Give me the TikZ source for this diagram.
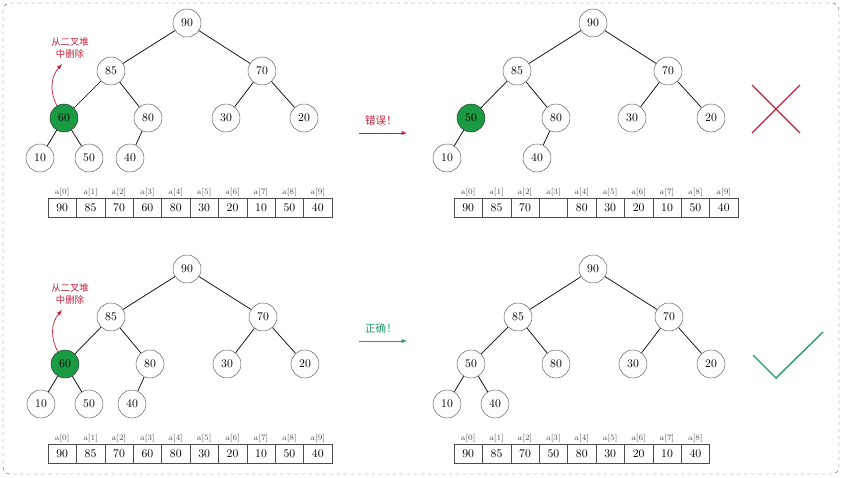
\documentclass[tikz,border=0pt]{standalone}
\usepackage{fontspec}
\newfontfamily\cjk{Noto Sans CJK SC}
\definecolor{delred}{HTML}{C0203A}
\definecolor{heapgreen}{HTML}{1A9A42}
\definecolor{okgreen}{HTML}{2A9A6A}

\begin{document}
\begin{tikzpicture}[x=0.03cm,y=-0.03cm,
  hnode/.style={draw=black!65, circle, minimum size=0.84cm, inner sep=0pt, fill=white},
  hot/.style={hnode, fill=heapgreen, draw=black!80},
  edge/.style={draw, line width=0.6pt},
  cell/.style={draw=black!70, minimum width=0.852cm, minimum height=0.57cm, inner sep=0pt},
  idx/.style={font=\scriptsize, text=black!70, inner sep=1pt, anchor=south},
  note/.style={font=\cjk\fontsize{8}{10}\selectfont, align=center, text=delred}]
\useasboundingbox (0,0) rectangle (842,477);
\draw[dashed, black!65, rounded corners=6] (3,3) rectangle (839,474);
\begin{scope}
\node[hnode] (n90) at (187,23) {90};
\node[hnode] (n85) at (111,71) {85};
\node[hnode] (n70) at (262,71) {70};
\node[hot] (n60) at (64,118) {60};
\node[hnode] (n80) at (148,118) {80};
\node[hnode] (n30) at (226,118) {30};
\node[hnode] (n20) at (304,118) {20};
\node[hnode] (n10) at (40,158) {10};
\node[hnode] (n50) at (89,158) {50};
\node[hnode] (n40) at (130,158) {40};
\path[edge] (n90) -- (n85);
\path[edge] (n90) -- (n70);
\path[edge] (n85) -- (n60);
\path[edge] (n85) -- (n80);
\path[edge] (n70) -- (n30);
\path[edge] (n70) -- (n20);
\path[edge] (n60) -- (n10);
\path[edge] (n60) -- (n50);
\path[edge] (n80) -- (n40);
\node[note] (del) at (70,48) {从二叉堆\\中删除};
\coordinate (up) at (62,64);
\path[draw, delred, semithick, -latex] (n60.120) to[bend left=35] (up);
\foreach \v [count=\i from 0] in {90,85,70,60,80,30,20,10,50,40} {
  \node[cell] (a\i) at (62.2+28.4*\i,208) {\v};
  \node[idx] at (a\i.north) {a[\i]};
}
\end{scope}
\begin{scope}[shift={(406,0)}]
\node[hnode] (n90) at (187,23) {90};
\node[hnode] (n85) at (111,71) {85};
\node[hnode] (n70) at (262,71) {70};
\node[hot] (n50) at (65,118) {50};
\node[hnode] (n80) at (150,118) {80};
\node[hnode] (n30) at (226,118) {30};
\node[hnode] (n20) at (305,118) {20};
\node[hnode] (n10) at (41,158) {10};
\node[hnode] (n40) at (131,158) {40};
\path[edge] (n90) -- (n85);
\path[edge] (n90) -- (n70);
\path[edge] (n85) -- (n50);
\path[edge] (n85) -- (n80);
\path[edge] (n70) -- (n30);
\path[edge] (n70) -- (n20);
\path[edge] (n50) -- (n10);
\path[edge] (n80) -- (n40);
\foreach \v [count=\i from 0] in {90,85,70,{},80,30,20,10,50,40} {
  \node[cell] (a\i) at (62.2+28.4*\i,208) {\v};
  \node[idx] at (a\i.north) {a[\i]};
}
\end{scope}
\begin{scope}[shift={(0,246)}]
\node[hnode] (n90) at (187,23) {90};
\node[hnode] (n85) at (111,71) {85};
\node[hnode] (n70) at (263,71) {70};
\node[hot] (n60) at (65,118) {60};
\node[hnode] (n80) at (150,118) {80};
\node[hnode] (n30) at (227,118) {30};
\node[hnode] (n20) at (305,118) {20};
\node[hnode] (n10) at (41,158) {10};
\node[hnode] (n50) at (89,158) {50};
\node[hnode] (n40) at (132,158) {40};
\path[edge] (n90) -- (n85);
\path[edge] (n90) -- (n70);
\path[edge] (n85) -- (n60);
\path[edge] (n85) -- (n80);
\path[edge] (n70) -- (n30);
\path[edge] (n70) -- (n20);
\path[edge] (n60) -- (n10);
\path[edge] (n60) -- (n50);
\path[edge] (n80) -- (n40);
\node[note] (del) at (70,48) {从二叉堆\\中删除};
\coordinate (up) at (62,64);
\path[draw, delred, semithick, -latex] (n60.120) to[bend left=35] (up);
\foreach \v [count=\i from 0] in {90,85,70,60,80,30,20,10,50,40} {
  \node[cell] (a\i) at (62.2+28.4*\i,208) {\v};
  \node[idx] at (a\i.north) {a[\i]};
}
\end{scope}
\begin{scope}[shift={(406,246)}]
\node[hnode] (n90) at (187,23) {90};
\node[hnode] (n85) at (112,71) {85};
\node[hnode] (n70) at (263,71) {70};
\node[hnode] (n50) at (65,118) {50};
\node[hnode] (n80) at (150,118) {80};
\node[hnode] (n30) at (227,118) {30};
\node[hnode] (n20) at (305,118) {20};
\node[hnode] (n10) at (41,158) {10};
\node[hnode] (n40) at (89,158) {40};
\path[edge] (n90) -- (n85);
\path[edge] (n90) -- (n70);
\path[edge] (n85) -- (n50);
\path[edge] (n85) -- (n80);
\path[edge] (n70) -- (n30);
\path[edge] (n70) -- (n20);
\path[edge] (n50) -- (n10);
\path[edge] (n50) -- (n40);
\foreach \v [count=\i from 0] in {90,85,70,50,80,30,20,10,40} {
  \node[cell] (a\i) at (62.2+28.4*\i,208) {\v};
  \node[idx] at (a\i.north) {a[\i]};
}
\end{scope}
% wrong / right
\node[font=\cjk\small, text=delred] (bad) at (381,121) {错误！};
\coordinate (b1) at (359,133);
\coordinate (b2) at (407,133);
\path[draw, delred, semithick, -latex] (b1) -- (b2);
\node[font=\cjk\small, text=okgreen] (good) at (381,328) {正确！};
\coordinate (g1) at (359,341);
\coordinate (g2) at (407,341);
\path[draw, okgreen, semithick, -latex] (g1) -- (g2);
\draw[delred, line width=1pt] (752,85) -- (800,133) (752,133) -- (800,85);
\draw[okgreen, line width=1.2pt] (753,355) -- (776,378) -- (823,332);
\end{tikzpicture}
\end{document}
